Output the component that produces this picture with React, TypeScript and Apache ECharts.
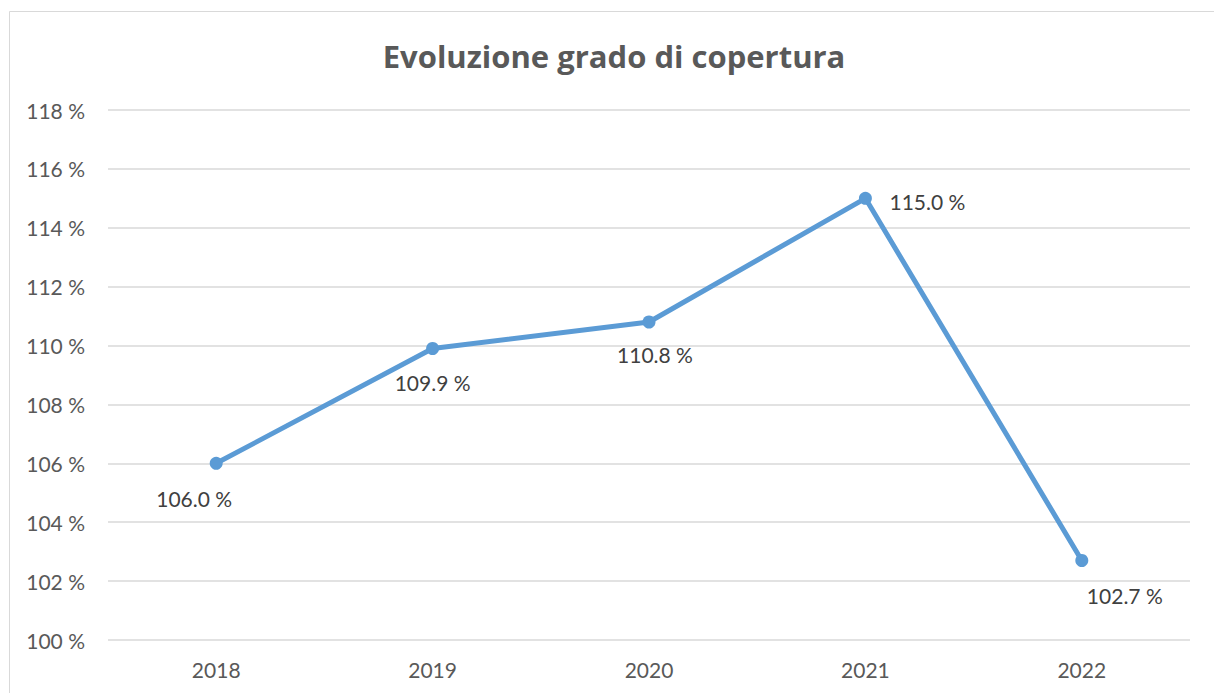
import React, { useEffect, useRef } from "react";
import * as echarts from "echarts";

const categories = ["2018", "2019", "2020", "2021", "2022"];
const values = [106.0, 109.9, 110.8, 115.0, 102.7];
const labelOffsets: [number, number][] = [
  [-22, 35],
  [0, 34],
  [6, 32],
  [62, 3],
  [43, 35],
];
const titleText = "Evoluzione grado di copertura";
const FONT = "Lato, 'Open Sans', sans-serif";

export default function App() {
  const ref = useRef<HTMLDivElement>(null);
  useEffect(() => {
    if (!ref.current) return;
    const chart = echarts.init(ref.current, null, { renderer: "svg" });
    chart.setOption({
      animation: false,
      backgroundColor: "#ffffff",
      textStyle: { fontFamily: FONT },
      graphic: [
        {
          type: "rect",
          shape: { x: 9.5, y: 11.5, width: 1400, height: 900 },
          style: { fill: "none", stroke: "#D9D9D9", lineWidth: 1 },
          silent: true,
        },
        {
          type: "text",
          x: 614,
          y: 56,
          style: {
            text: titleText,
            fontFamily: "'Open Sans', sans-serif",
            fontSize: 31,
            fontWeight: "bold",
            fill: "#595959",
            textAlign: "center",
            textVerticalAlign: "middle",
          },
        },
      ],
      grid: { left: 108, right: 24, top: 110, bottom: 53, containLabel: false },
      xAxis: {
        type: "category",
        data: categories,
        boundaryGap: true,
        axisLine: { show: false },
        axisTick: { show: false },
        axisLabel: { color: "#595959", fontSize: 21, margin: 19, fontFamily: FONT },
      },
      yAxis: {
        type: "value",
        min: 100,
        max: 118,
        interval: 2,
        axisLine: { show: false },
        axisTick: { show: false },
        splitLine: { lineStyle: { color: "#D9D9D9", width: 1.5 } },
        axisLabel: {
          color: "#595959",
          fontSize: 21,
          margin: 23,
          fontFamily: FONT,
          formatter: (v: number) => `${v} %`,
        },
      },
      series: [
        {
          type: "line",
          data: values.map((v, i) => ({
            value: v,
            label: { offset: labelOffsets[i] },
          })),
          symbol: "circle",
          symbolSize: 13,
          itemStyle: { color: "#5B9BD5" },
          lineStyle: { color: "#5B9BD5", width: 5 },
          label: {
            show: true,
            position: "inside",
            align: "center",
            verticalAlign: "middle",
            color: "#404040",
            fontSize: 21,
            fontFamily: FONT,
            formatter: (p: any) => `${Number(p.value).toFixed(1)} %`,
          },
        },
      ],
    });
    return () => chart.dispose();
  }, []);
  return (
    <div
      ref={ref}
      style={{ position: "absolute", left: 0, top: 0, width: 1214, height: 693 }}
    />
  );
}
